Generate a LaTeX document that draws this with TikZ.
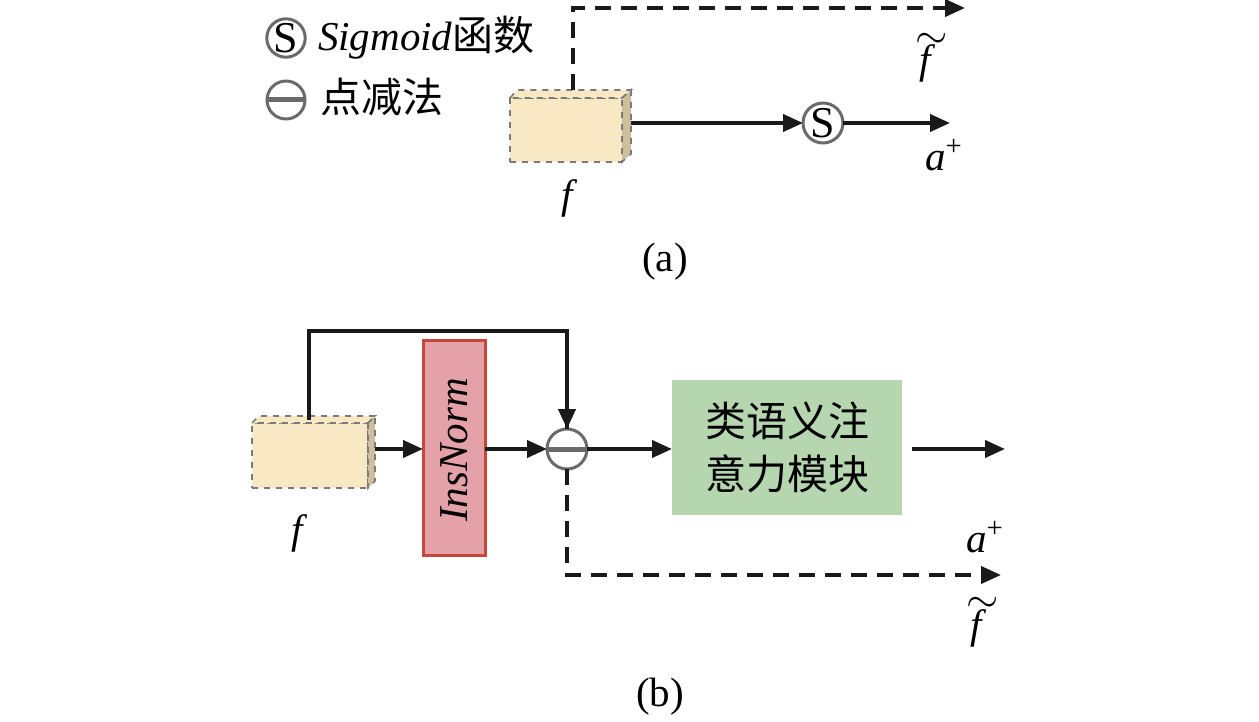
\documentclass[tikz,border=0pt]{standalone}
\usepackage{fontspec}
\setmainfont{Liberation Serif}
\newfontfamily\cjk{Noto Sans CJK SC}
\usetikzlibrary{arrows.meta,calc}
\definecolor{boxfill}{HTML}{F8E8C4}
\definecolor{boxside}{HTML}{CDBE9E}
\definecolor{boxedge}{HTML}{7A7A7A}
\definecolor{pinkfill}{HTML}{E5A1A8}
\definecolor{pinkedge}{HTML}{C7473B}
\definecolor{greenfill}{HTML}{B6D6B0}
\definecolor{circedge}{HTML}{6A6A6A}
\definecolor{ink}{HTML}{1A1A1A}
\newcommand{\ftilde}{\textit{f}\rlap{\kern-0.5em\raisebox{0.62em}{$\sim$}}}
\begin{document}
\begin{tikzpicture}[x=0.5pt,y=-0.5pt,
  every node/.style={font=\fontsize{20.5}{26}\selectfont, inner sep=0pt, outer sep=0pt},
  line/.style={line width=2pt, draw=ink},
  arr/.style={line, -{Triangle[length=10pt,width=8.5pt]}},
  dline/.style={line, dash pattern=on 8pt off 5pt},
  darr/.style={dline, -{Triangle[length=10pt,width=8.5pt]}},
  featbox/.style={draw=boxedge, dashed, line width=0.8pt, fill=boxfill, minimum width=#1},
  opcirc/.style={circle, draw=circedge, line width=1.5pt, fill=white, minimum size=20pt},
  face/.style={draw=boxedge, dashed, line width=0.8pt}
]
\useasboundingbox (0,0) rectangle (1259,722);

% ---------------- (a) ----------------
% legend
\node[opcirc, minimum size=19pt, font=\fontsize{22}{26}\selectfont] (legS) at (286,38) {S};
\node[anchor=west] (legStext) at (318,38) {\textit{Sigmoid}{\cjk 函数}};
\node[opcirc, minimum size=19pt] (legM) at (286,100) {};
\draw[line width=2.5pt, draw=circedge] (legM.west) -- (legM.east);
\node[anchor=west] (legMtext) at (320,97) {\cjk 点减法};

% feature box a
\node[featbox=56pt, minimum height=32pt] (fa) at (566,130) {};
\filldraw[face, fill=boxfill] (fa.north west) -- ++(7,-8) -- ($(fa.north east)+(9,-8)$) -- (fa.north east) -- cycle;
\filldraw[face, fill=boxside] (fa.north east) -- ++(9,-8) -- ($(fa.south east)+(9,-8)$) -- (fa.south east) -- cycle;
\node (fal) at (570,198) {\textit{f}};

\coordinate (faTop) at (573,90);
\coordinate (faOut) at (631,123);
\coordinate (aEnd1) at (965,8);
\coordinate (aEnd2) at (950,123);
\node[opcirc, font=\fontsize{22}{26}\selectfont] (sig) at (823,123) {S};

\draw[darr] (faTop) |- (aEnd1);
\draw[arr] (faOut) -- (sig.west);
\draw[arr] (sig.east) -- (aEnd2);

\node[anchor=base] (ft1) at (928,74) {\ftilde};
\node (ap1) at (944,155) {\textit{a}\textsuperscript{+}};
\node (capa) at (665,262) {(a)};

% ---------------- (b) ----------------
\node[featbox=58pt, minimum height=32.5pt] (fb) at (310,455.5) {};
\filldraw[face, fill=boxfill] (fb.north west) -- ++(7,-7) -- ($(fb.north east)+(7,-7)$) -- (fb.north east) -- cycle;
\filldraw[face, fill=boxside] (fb.north east) -- ++(7,-7) -- ($(fb.south east)+(7,-7)$) -- (fb.south east) -- cycle;
\node (fbl) at (300,533) {\textit{f}};

\node[draw=pinkedge, line width=1.5pt, fill=pinkfill, minimum width=31pt, minimum height=107.5pt] (ins) at (454,447.5) {};
\node[rotate=90] (inst) at (454,450) {\textit{InsNorm}};

\node[opcirc] (sub) at (567,449) {};
\draw[line width=2.5pt, draw=circedge] (sub.west) -- (sub.east);

\node[fill=greenfill, minimum width=115pt, minimum height=67.5pt, align=center,
      font=\fontsize{20.5}{26.5}\selectfont\cjk] (att) at (787,447.5) {类语义注\\意力模块};

\coordinate (fbTop) at (309,420);
\coordinate (fbOut) at (375,449);
\coordinate (loopY) at (309,331);
\coordinate (attOut) at (912,449);
\coordinate (bEnd1) at (1005,449);
\coordinate (bEnd2) at (1001,575);

\draw[line] (fbTop) -- (loopY) -| (sub.north);
\draw[arr] (loopY -| sub.north) -- (sub.north);
\draw[arr] (fbOut) -- (ins.west |- fbOut);
\draw[arr] (ins.east |- sub.west) -- (sub.west);
\draw[arr] (sub.east) -- (att.west |- sub.east);
\draw[arr] (attOut) -- (bEnd1);
\draw[darr] (sub.south) |- (bEnd2);

\node (ap2) at (985,537) {\textit{a}\textsuperscript{+}};
\node[anchor=base] (ft2) at (979,638) {\ftilde};
\node (capb) at (660,697) {(b)};
\end{tikzpicture}
\end{document}
